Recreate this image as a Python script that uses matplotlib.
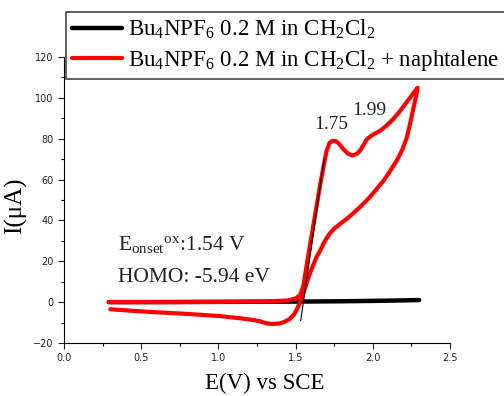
import matplotlib
matplotlib.use('Agg')
import matplotlib.pyplot as plt
from matplotlib.ticker import MultipleLocator

plt.rcParams['mathtext.fontset'] = 'custom'
plt.rcParams['mathtext.rm'] = 'Liberation Serif'
plt.rcParams['mathtext.it'] = 'Liberation Serif:italic'

# blank electrolyte (black)
blank_v = [0.29, 0.6, 1.0, 1.4, 1.8, 2.1, 2.3]
blank_i = [0.0, 0.0, 0.1, 0.2, 0.4, 0.7, 1.0]

# naphtalene CV, forward then reverse scan (red)
cv_v = [0.29, 0.6, 1.0, 1.3, 1.45, 1.5, 1.53, 1.55, 1.58, 1.62, 1.66, 1.68, 1.70,
        1.72, 1.74, 1.76, 1.78, 1.81, 1.84, 1.87, 1.90, 1.92, 1.94, 1.96, 1.99,
        2.02, 2.05, 2.09, 2.13, 2.17, 2.21, 2.25, 2.28, 2.29,
        2.28, 2.26, 2.24, 2.22, 2.19, 2.155, 2.11, 2.07, 2.02, 1.98, 1.93, 1.87,
        1.83, 1.79, 1.75, 1.72, 1.69, 1.66, 1.635, 1.61, 1.59, 1.57, 1.55,
        1.53, 1.51, 1.49, 1.46, 1.43, 1.40, 1.36, 1.33, 1.30, 1.27, 1.21, 1.15,
        1.0, 0.8, 0.6, 0.45, 0.3]
cv_i = [0.0, 0.0, 0.1, 0.3, 0.8, 1.8, 3.5, 8, 22, 40, 58, 66, 74,
        78, 79, 78.8, 77.6, 74.8, 72.6, 71.8, 72.8, 74.5, 77, 79.6, 81.5,
        82.8, 84, 86.5, 89.5, 93, 97, 101, 104, 105,
        101, 94, 87, 80.6, 74.5, 69.3, 64, 59.5, 55, 51.4, 47.5, 43.3,
        40.7, 38.4, 36, 33.5, 30, 25.4, 22, 17.5, 13.5, 9, 4.5,
        0, -3.2, -6, -8.3, -9.6, -10.4, -10.7, -10.6, -10.2, -9.4, -8.6, -8,
        -6.8, -5.8, -5, -4.3, -3.5]

# onset tangent
tan_v = [1.533, 1.684]
tan_i = [-9, 70]

fig = plt.figure(figsize=(5.04, 3.96), dpi=100)
ax = fig.add_axes([0.127, 0.134, 0.766, 0.722])

ax.plot(blank_v, blank_i, color='black', linewidth=3.2, solid_capstyle='round',
        label=r'Bu$_4$NPF$_6$ 0.2 M in CH$_2$Cl$_2$')
ax.plot(cv_v, cv_i, color='#ff0000', linewidth=3, solid_capstyle='round',
        solid_joinstyle='round',
        label=r'Bu$_4$NPF$_6$ 0.2 M in CH$_2$Cl$_2$ + naphtalene')
ax.plot(tan_v, tan_i, color='black', linewidth=0.8)

ax.set_xlim(0, 2.5)
ax.set_ylim(-20, 120)
ax.xaxis.set_major_locator(MultipleLocator(0.5))
ax.xaxis.set_minor_locator(MultipleLocator(0.25))
ax.yaxis.set_major_locator(MultipleLocator(20))
ax.yaxis.set_minor_locator(MultipleLocator(10))
ax.tick_params(which='major', length=4, width=0.8, labelsize=7, colors='#222222')
ax.tick_params(which='minor', length=2.5, width=0.8)
ax.spines['top'].set_visible(False)
ax.spines['right'].set_visible(False)

ax.set_xlabel('E(V) vs SCE', family='Liberation Serif', fontsize=16.5, labelpad=7)
ax.xaxis.label.set_x(0.52)
ax.set_ylabel('I(μA)', family='Liberation Serif', fontsize=18)
ax.yaxis.set_label_coords(-0.096, 0.48)

ann = dict(family='Liberation Serif', color='#222222')
ax.text(1.73, 87, '1.75', ha='center', va='center', fontsize=14, **ann)
ax.text(1.98, 94, '1.99', ha='center', va='center', fontsize=14, **ann)
ax.text(0.35, 28, r'E$_{\mathrm{onset}}$$^{\mathrm{ox}}$:1.54 V', va='center',
        fontsize=15.5, **ann)
ax.text(0.35, 12, 'HOMO: -5.94 eV', va='center', fontsize=15.5, **ann)

leg = fig.legend(loc='upper left', bbox_to_anchor=(66 / 504, 1 - 12 / 396),
                 borderaxespad=0, fancybox=False, framealpha=1,
                 handlelength=2.2, handletextpad=0.25, labelspacing=0.3,
                 borderpad=0.25, prop={'family': 'Liberation Serif', 'size': 16.5})
leg.get_frame().set_edgecolor('#444444')
leg.get_frame().set_linewidth(1.2)

fig.savefig('out.png', dpi=100)
